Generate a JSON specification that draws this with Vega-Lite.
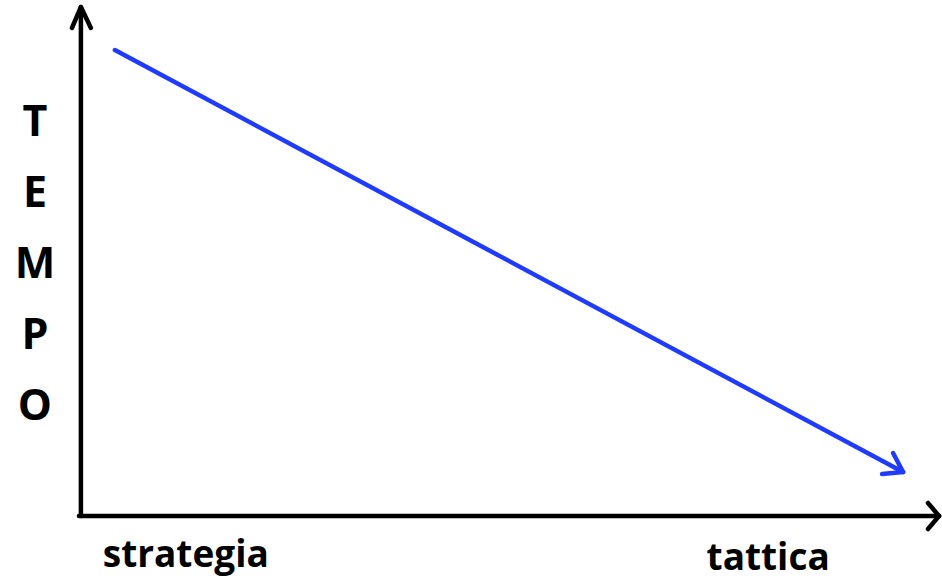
{
  "$schema": "https://vega.github.io/schema/vega-lite/v6.json",
  "width": 942,
  "height": 580,
  "autosize": {"type": "fit", "contains": "padding"},
  "padding": 0,
  "background": "white",
  "config": {"view": {"stroke": null}},
  "datasets": {
    "segments": [
      {"part": "asse", "x": 81, "y": 64, "x2": 81, "y2": 572},
      {"part": "asse", "x": 72, "y": 552, "x2": 81, "y2": 573},
      {"part": "asse", "x": 91, "y": 552, "x2": 81, "y2": 573},
      {"part": "asse", "x": 79, "y": 64, "x2": 940, "y2": 64},
      {"part": "asse", "x": 929, "y": 77, "x2": 940, "y2": 64},
      {"part": "asse", "x": 929, "y": 51, "x2": 940, "y2": 64},
      {"part": "freccia", "x": 115, "y": 530, "x2": 904, "y2": 108},
      {"part": "freccia", "x": 894, "y": 127, "x2": 904, "y2": 108},
      {"part": "freccia", "x": 883, "y": 106, "x2": 904, "y2": 108}
    ],
    "labels": [
      {"label": "T", "x": 35, "y": 444, "size": "lettera"},
      {"label": "E", "x": 35, "y": 373, "size": "lettera"},
      {"label": "M", "x": 35, "y": 302, "size": "lettera"},
      {"label": "P", "x": 35, "y": 231, "size": "lettera"},
      {"label": "O", "x": 35, "y": 160, "size": "lettera"},
      {"label": "strategia", "x": 186, "y": 13, "size": "parola"},
      {"label": "tattica", "x": 769, "y": 10, "size": "parola"}
    ]
  },
  "layer": [
    {
      "data": {"name": "segments"},
      "mark": {"type": "rule", "strokeWidth": 4.5, "strokeCap": "round"},
      "encoding": {
        "x": {"field": "x", "type": "quantitative", "scale": {"domain": [0, 942], "nice": false, "zero": false}, "axis": null},
        "y": {"field": "y", "type": "quantitative", "scale": {"domain": [0, 580], "nice": false, "zero": false}, "axis": null},
        "x2": {"field": "x2"},
        "y2": {"field": "y2"},
        "color": {"field": "part", "type": "nominal", "scale": {"domain": ["asse", "freccia"], "range": ["#000000", "#1f3bff"]}, "legend": null}
      }
    },
    {
      "data": {"name": "labels"},
      "mark": {"type": "text", "font": "Open Sans", "fontWeight": "bold", "align": "center", "baseline": "alphabetic", "color": "#000000"},
      "encoding": {
        "x": {"field": "x", "type": "quantitative", "scale": {"domain": [0, 942], "nice": false, "zero": false}, "axis": null},
        "y": {"field": "y", "type": "quantitative", "scale": {"domain": [0, 580], "nice": false, "zero": false}, "axis": null},
        "text": {"field": "label", "type": "nominal"},
        "size": {"field": "size", "type": "nominal", "scale": {"domain": ["lettera", "parola"], "range": [43, 37]}, "legend": null}
      }
    }
  ]
}
